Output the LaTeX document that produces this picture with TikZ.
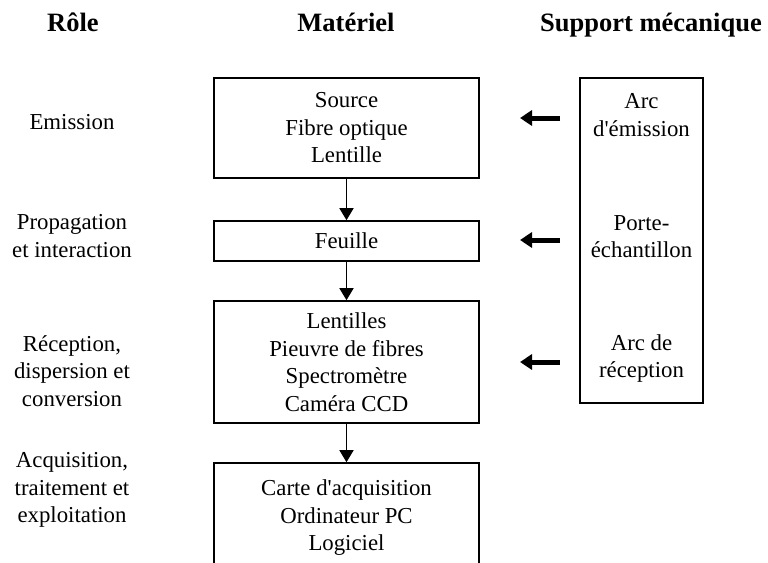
\documentclass[tikz,border=0pt]{standalone}
\usepackage{fontspec}
\setmainfont{Liberation Serif}
\usetikzlibrary{arrows.meta}

\begin{document}
\begin{tikzpicture}
[
    x=1pt, y=-1pt,
    every node/.style={align=center, font=\fontsize{22.8}{27.5}\selectfont, inner sep=0pt},
    head/.style={anchor=base, font=\fontsize{26.5}{30}\selectfont\bfseries},
    box/.style={draw, line width=1.6pt, minimum width=265pt},
    flow/.style={line width=1.6pt, -{Triangle[width=14pt, length=12pt]}},
    push/.style={line width=5pt, -{Triangle[width=15pt, length=12pt]}},
]
\clip (0,0) rectangle (768,562);
% column titles
\node [head] (trole) at (73,31) {Rôle};
\node [head] (tmat) at (346,31) {Matériel};
\node [head] (tsup) at (651,31) {Support mécanique};
% roles
\node (remis) at (72,122) {Emission};
\node (rprop) at (72,236) {Propagation\\et interaction};
\node (rrecep) at (72,371) {Réception,\\dispersion et\\conversion};
\node (racq) at (72,490) {Acquisition,\\traitement et\\exploitation};
% material
\node [box, minimum height=100pt] (memis) at (346.5,128) {Source\\Fibre optique\\Lentille};
\node [box, minimum height=40pt] (mprop) at (346.5,241) {Feuille};
\node [box, minimum height=122pt] (mrecep) at (346.5,362) {Lentilles\\Pieuvre de fibres\\Spectromètre\\Caméra CCD};
\node [box, minimum height=110pt] (macq) at (346.5,518) {Carte d\textquotesingle acquisition\\Ordinateur PC\\Logiciel};
\draw [flow] (memis) -- (mprop);
\draw [flow] (mprop) -- (mrecep);
\draw [flow] (mrecep) -- (macq);
% mechanical support
\node [draw, line width=1.6pt, minimum width=123pt, minimum height=325pt] (supp) at (641.5,240.5) {};
\node (semis) at (641.5,115) {Arc\\d\textquotesingle émission};
\node (sprop) at (641.5,236.5) {Porte-\\échantillon};
\node (srecep) at (641.5,358.5) {Arc de\\réception};
\coordinate (pe1) at (560,118);
\coordinate (pe2) at (520,118);
\coordinate (pp1) at (560,240);
\coordinate (pp2) at (520,240);
\coordinate (pr1) at (560,362);
\coordinate (pr2) at (520,362);
\draw [push] (pe1) -- (pe2);
\draw [push] (pp1) -- (pp2);
\draw [push] (pr1) -- (pr2);
\end{tikzpicture}
\end{document}
